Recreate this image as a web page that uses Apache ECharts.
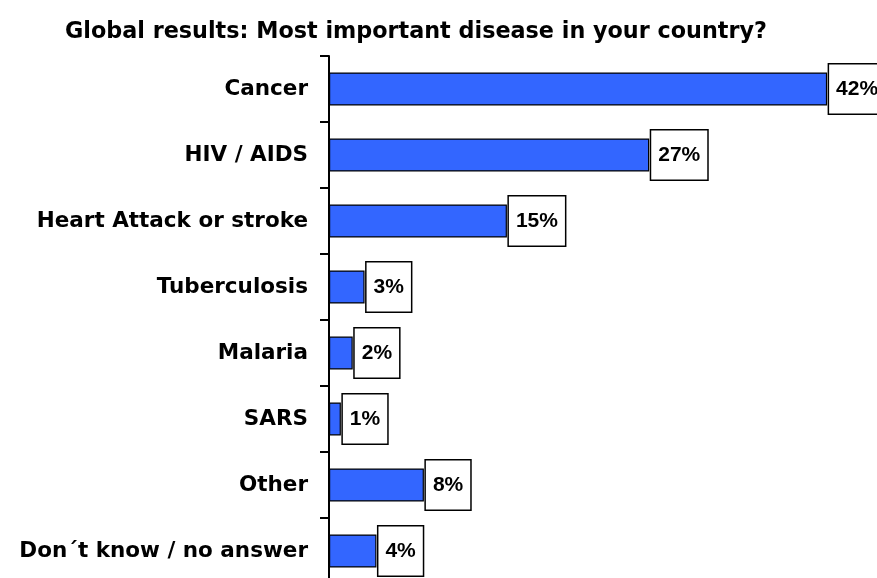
<!DOCTYPE html>
<html><head><meta charset="utf-8">
<script src="https://cdn.jsdelivr.net/npm/echarts@6/dist/echarts.min.js"></script>
<style>html,body{margin:0;padding:0;background:#fff}#c{width:877px;height:578px}</style>
</head><body><div id="c"></div>
<script>
const categories = ["Cancer","HIV / AIDS","Heart Attack or stroke","Tuberculosis","Malaria","SARS","Other","Don\u00b4t know / no answer"];
const values = [42,27,15,3,2,1,8,4];
const titleText = "Global results: Most important disease in your country?";

const chart = echarts.init(document.getElementById('c'));
chart.setOption({
  animation:false,
  backgroundColor:'#fff',
  title:{text:titleText,left:60,top:16,textStyle:{fontFamily:'DejaVu Sans',fontWeight:'bold',fontSize:22.3,color:'#000'}},
  grid:{left:329,top:56,width:593,height:528,outerBoundsMode:'none',containLabel:false},
  xAxis:{type:'value',min:0,max:50,show:false},
  yAxis:{type:'category',inverse:true,data:categories,
    axisLine:{show:true,lineStyle:{color:'#000',width:2}},
    axisTick:{show:true,length:9,lineStyle:{color:'#000',width:2}},
    axisLabel:{margin:21,fontFamily:'DejaVu Sans',fontWeight:'bold',fontSize:21.5,color:'#000'}
  },
  series:[{type:'bar',data:values,barWidth:33,
    itemStyle:{color:'#3366ff',borderColor:'#000',borderWidth:1.2},
    label:{show:true,position:'right',distance:2,formatter:'{c}%',
      fontFamily:'Liberation Sans, Arial',fontWeight:'bold',fontSize:21,color:'#000',
      backgroundColor:'#fff',borderColor:'#000',borderWidth:1.5,padding:[14,7,14,7]}
  }]
});
</script></body></html>
